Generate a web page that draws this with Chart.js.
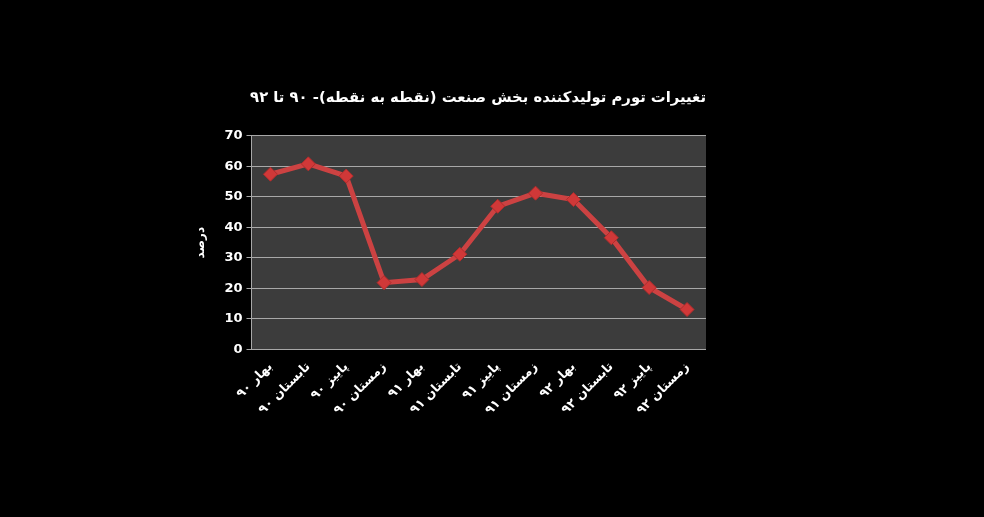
<!DOCTYPE html>
<html><head><meta charset="utf-8">
<script src="https://cdn.jsdelivr.net/npm/chart.js@4"></script>
<style>html,body{margin:0;padding:0;background:#000;}#wrap{position:absolute;left:0;top:0;width:984px;height:517px;}</style>
</head><body><div id="wrap"><canvas id="c"></canvas></div>
<script>
const titleText = 'تغییرات تورم تولیدکننده بخش صنعت (نقطه به نقطه)- ۹۰ تا ۹۲';
const yTitle = 'درصد';
const categories = ['بهار ۹۰','تابستان ۹۰','پاییز ۹۰','زمستان ۹۰','بهار ۹۱','تابستان ۹۱','پاییز ۹۱','زمستان ۹۱','بهار ۹۲','تابستان ۹۲','پاییز ۹۲','زمستان ۹۲'];
const values = [57.4, 60.8, 56.8, 21.9, 22.9, 31.2, 46.9, 51.2, 49.1, 36.6, 20.3, 13.1];
const yTicks = [0,10,20,30,40,50,60,70];

const bgPlugin = {
  id:'bg',
  beforeDraw(chart){
    const {ctx, chartArea:a} = chart;
    ctx.save();
    ctx.fillStyle='#000';
    ctx.fillRect(0,0,chart.width,chart.height);
    ctx.fillStyle='#3c3c3c';
    ctx.fillRect(a.left,a.top,a.right-a.left,a.bottom-a.top);
    ctx.restore();
  }
};

new Chart(document.getElementById('c'), {
  type:'line',
  data:{labels:categories, datasets:[{
    data:values,
    borderColor:'#cc4242',
    backgroundColor:'#d03838',
    borderWidth:5,
    pointStyle:'rectRot',
    pointRadius:7,
    pointBorderWidth:1,
    pointBorderColor:'#b02c2c',
    tension:0
  }]},
  options:{
    responsive:true, maintainAspectRatio:false, animation:false,
    layout:{padding:{left:194,right:278,top:89,bottom:89}},
    plugins:{
      legend:{display:false},
      tooltip:{enabled:false},
      title:{display:true,align:'end',text:titleText,color:'#fff',font:{family:'DejaVu Sans',size:14.8,weight:'bold'},padding:{top:0,bottom:29}}
    },
    scales:{
      x:{
        offset:true,
        grid:{display:false, drawTicks:false},
        border:{display:false},
        ticks:{color:'#fff',font:{family:'DejaVu Sans',size:12.5,weight:'bold'},minRotation:45,maxRotation:45,autoSkip:false,padding:10}
      },
      y:{
        min:0,max:70,
        afterBuildTicks(axis){axis.ticks = yTicks.map(v=>({value:v}));},
        grid:{color:'#a8a8a8',lineWidth:1,tickLength:5,tickColor:'#a8a8a8'},
        border:{display:true,color:'#a8a8a8'},
        ticks:{color:'#fff',font:{family:'DejaVu Sans',size:13,weight:'bold'},padding:4},
        title:{display:true,text:yTitle,color:'#fff',font:{family:'DejaVu Sans',size:12,weight:'bold'},padding:{top:0,bottom:12}}
      }
    }
  },
  plugins:[bgPlugin]
});
</script></body></html>
